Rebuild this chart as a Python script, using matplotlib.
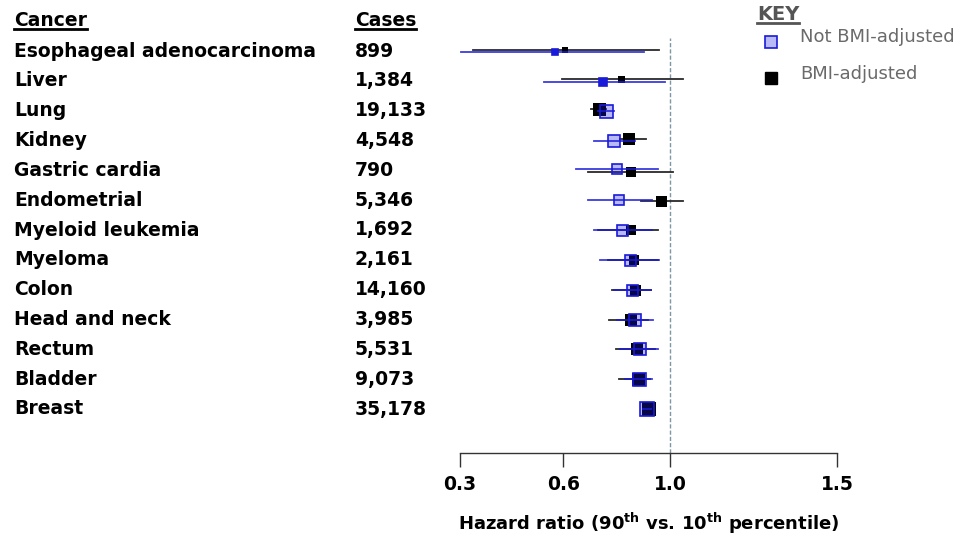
import numpy as np
import matplotlib
matplotlib.use("Agg")
import matplotlib.pyplot as plt
from matplotlib.scale import FuncScale
from matplotlib.transforms import blended_transform_factory

plt.rcParams['font.family'] = ['DejaVu Sans']
plt.rcParams['mathtext.fontset'] = 'custom'
plt.rcParams['mathtext.rm'] = 'DejaVu Sans:bold'
plt.rcParams['mathtext.bf'] = 'DejaVu Sans:bold'

cancers = ["Esophageal adenocarcinoma", "Liver", "Lung", "Kidney", "Gastric cardia",
           "Endometrial", "Myeloid leukemia", "Myeloma", "Colon", "Head and neck",
           "Rectum", "Bladder", "Breast"]
cases = ["899", "1,384", "19,133", "4,548", "790", "5,346", "1,692", "2,161",
         "14,160", "3,985", "5,531", "9,073", "35,178"]

# Not BMI-adjusted
hr_raw = [0.576, 0.749, 0.760, 0.790, 0.801, 0.809, 0.820, 0.850, 0.857, 0.869, 0.888, 0.884, 0.914]
lo_raw = [0.303, 0.544, 0.730, 0.715, 0.648, 0.693, 0.715, 0.738, 0.790, 0.801, 0.812, 0.831, 0.899]
hi_raw = [0.903, 0.981, 0.790, 0.869, 0.955, 0.933, 0.933, 0.959, 0.929, 0.937, 0.955, 0.933, 0.929]
# BMI-adjusted
hr_adj = [0.606, 0.816, 0.734, 0.846, 0.854, 0.966, 0.854, 0.865, 0.869, 0.854, 0.876, 0.880, 0.921]
lo_adj = [0.338, 0.596, 0.704, 0.812, 0.693, 0.891, 0.730, 0.768, 0.782, 0.771, 0.797, 0.809, 0.906]
hi_adj = [0.959, 1.039, 0.760, 0.910, 1.009, 1.039, 0.955, 0.955, 0.929, 0.917, 0.944, 0.925, 0.937]
# marker sizes (study weight)
w_raw = [6, 8, 13, 12, 10, 10, 11, 11, 11, 12, 12, 13, 14]
w_adj = [6, 7, 13, 12, 10, 11, 10, 10, 11, 12, 12, 13, 14]

xticks = [0.3, 0.6, 1.0, 1.5]
xticklabels = ["0.3", "0.6", "1.0", "1.5"]

# small vertical nudges of the two estimates within a row (style)
nudge_adj = [-0.05, -0.05, -0.05, -0.05, 0.06, 0.04, 0, 0, 0, 0, 0, 0, 0]
nudge_raw = [0.03, 0.03, 0.02, 0.02, -0.03, -0.02, 0, 0, 0, 0, 0, 0, 0]

# piecewise axis used in the original figure
_knots_v = np.array([0.3, 0.6, 1.0, 1.5])
_knots_p = np.array([0.0, 103.3, 210.0, 376.7])
def fwd(x):
    return np.interp(x, _knots_v, _knots_p)
def inv(p):
    return np.interp(p, _knots_p, _knots_v)

W, H = 966, 542
fig = plt.figure(figsize=(W / 100, H / 100), dpi=100)
ax_l, ax_r, ax_t, ax_b = 460, 837, 38, 453
ax = fig.add_axes([ax_l / W, 1 - ax_b / H, (ax_r - ax_l) / W, (ax_b - ax_t) / H])
ax.set_xscale(FuncScale(ax, (fwd, inv)))
ax.set_xlim(0.3, 1.5)
n = len(cancers)
spacing = (409 - 51) / (n - 1)
ax.set_ylim((n - 1) + (ax_b - 409) / spacing, -(51 - ax_t) / spacing)

ypos = np.arange(n)
blue_edge = (0.1, 0.1, 0.85)
blue_face = (0.1, 0.1, 0.9, 0.3)

# reference line
ax.axvline(1.0, color='#7d97a6', lw=1.0, ls=(0, (3, 1.5)), zorder=1)

for i in range(n):
    yb = ypos[i] + nudge_adj[i]
    yr = ypos[i] + nudge_raw[i]
    ax.plot([lo_adj[i], hi_adj[i]], [yb, yb], color='#2a2a2a', lw=1.3, zorder=2)
    ax.plot([hr_adj[i]], [yb], marker='s', ms=w_adj[i] * 0.72, color='black',
            mec='black', mew=0, ls='none', zorder=3)
    ax.plot([lo_raw[i], hi_raw[i]], [yr, yr], color=blue_edge, lw=1.3, alpha=0.85, zorder=4)
    face = blue_edge if w_raw[i] < 9 else blue_face
    ax.plot([hr_raw[i]], [yr], marker='s', ms=w_raw[i] * 0.72, mfc=face,
            mec=blue_edge, mew=1.2, ls='none', zorder=5)

for s in ['top', 'right', 'left']:
    ax.spines[s].set_visible(False)
ax.spines['bottom'].set_color('#333333')
ax.spines['bottom'].set_linewidth(1.0)
ax.set_yticks([])
ax.set_xticks(xticks)
ax.set_xticklabels(xticklabels, fontsize=13.5, fontweight='bold')
ax.tick_params(axis='x', direction='out', length=10, width=1.0, color='#333333', pad=6)
ax.minorticks_off()
ax.set_xlabel(r'Hazard ratio (90$^{\mathrm{th}}$ vs. 10$^{\mathrm{th}}$ percentile)',
              fontsize=13, fontweight='bold', labelpad=12)

tr = blended_transform_factory(fig.transFigure, ax.transData)
FS = 13.5
for i in range(n):
    fig.text(14 / W, ypos[i], cancers[i], transform=tr, fontsize=FS, fontweight='bold',
             va='center', ha='left')
    fig.text(355 / W, ypos[i], cases[i], transform=tr, fontsize=FS, fontweight='bold',
             va='center', ha='left')

hy = (20 - 51) / spacing
h1 = fig.text(14 / W, hy, "Cancer", transform=tr, fontsize=FS, fontweight='bold',
              va='center', ha='left')
h2 = fig.text(355 / W, hy, "Cases", transform=tr, fontsize=FS, fontweight='bold',
              va='center', ha='left')
k = fig.text(757 / W, 1 - 14 / H, "KEY", fontsize=14, fontweight='bold', color='#555555',
             va='center', ha='left')

fig.text(800 / W, 1 - 37 / H, "Not BMI-adjusted", fontsize=13, color='#6a6a6a',
         va='center', ha='left')
fig.text(800 / W, 1 - 74 / H, "BMI-adjusted", fontsize=13, color='#6a6a6a',
         va='center', ha='left')
fig.lines.append(plt.Line2D([771 / W], [1 - 42 / H], marker='s', ms=8.6, mfc=blue_face,
                            mec=blue_edge, mew=1.2, ls='none', transform=fig.transFigure))
fig.lines.append(plt.Line2D([771 / W], [1 - 78 / H], marker='s', ms=8.6, color='black',
                            ls='none', transform=fig.transFigure))

fig.canvas.draw()
r = fig.canvas.get_renderer()
for t, col in [(h1, 'black'), (h2, 'black'), (k, '#555555')]:
    bb = t.get_window_extent(r)
    yline = bb.y0 + 1
    fig.lines.append(plt.Line2D([bb.x0 / W, bb.x1 / W], [yline / H, yline / H],
                                color=col, lw=2.0, transform=fig.transFigure))

fig.savefig("out.png", dpi=100)
